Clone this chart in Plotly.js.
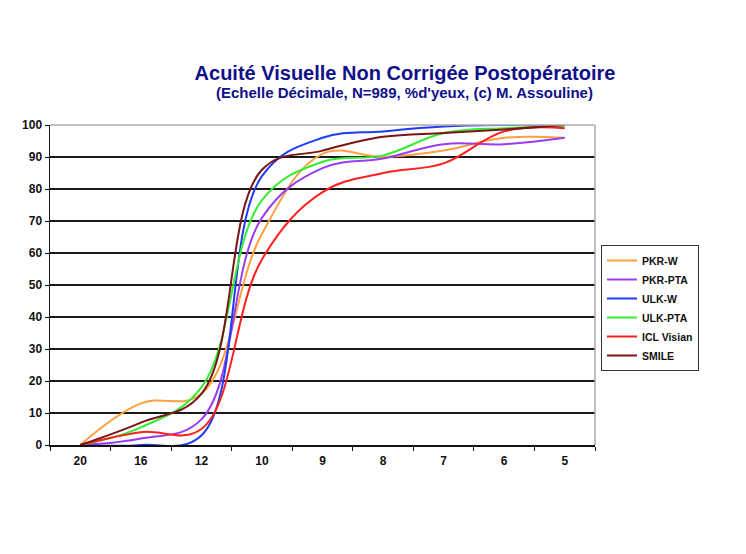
<!DOCTYPE html>
<html>
<head>
<meta charset="utf-8">
<script src="https://cdn.plot.ly/plotly-3.0.1.min.js"></script>
<style>
  html, body { margin: 0; padding: 0; background: #fff; }
  #chart { width: 746px; height: 554px; }
</style>
</head>
<body>
<div id="chart"></div>
<script>
// ------------------------------
// Data
// ------------------------------
var acuity = ['20', '16', '12', '10', '9', '8', '7', '6', '5'];

var pkrW    = [0, 13, 16, 66, 91, 90, 92, 96, 96];
var pkrPta  = [0, 2, 8, 71, 86.5, 89.5, 94, 94, 96];
var ulkW    = [0, 0, 3, 84, 96, 98, 99.5, 100, 100];
var ulkPta  = [0, 5.5, 18, 76.5, 88.5, 90.5, 97.5, 99, 99.5];
var iclV    = [0, 4, 5, 58, 79, 85, 88, 98, 99];
var smile   = [0, 7, 16, 86, 92, 96.3, 97.5, 98.6, 100];

var names  = ['PKR-W', 'PKR-PTA', 'ULK-W', 'ULK-PTA', 'ICL Visian', 'SMILE'];
var series = [pkrW, pkrPta, ulkW, ulkPta, iclV, smile];
var colors = ['#ffa040', '#9b3cf0', '#1f3cf5', '#33ee33', '#ff2020', '#7a1515'];

var font = 'Arial, "Liberation Sans", sans-serif';

var data = series.map(function (ys, i) {
  return {
    x: acuity,
    y: ys,
    name: names[i],
    type: 'scatter',
    mode: 'lines',
    line: { color: colors[i], width: 2, shape: 'spline', smoothing: 1.1 }
  };
});

var layout = {
  width: 746,
  height: 554,
  margin: { l: 50, r: 151, t: 125, b: 109 },
  paper_bgcolor: '#fff',
  plot_bgcolor: '#fff',
  font: { family: font, color: '#111', size: 11 },
  title: {
    text: '<b>Acuité Visuelle Non Corrigée Postopératoire</b>',
    font: { family: font, size: 20, color: '#10108a' },
    xref: 'container', x: 405 / 746, xanchor: 'center',
    yref: 'container', y: 1 - 73 / 554, yanchor: 'middle'
  },
  annotations: [{
    text: '<b>(Echelle Décimale, N=989, %d\'yeux, (c) M. Assouline)</b>',
    xref: 'paper', yref: 'paper',
    x: (404 - 50) / 545, y: (445 - 93) / 320,
    xanchor: 'center', yanchor: 'middle',
    showarrow: false,
    font: { family: font, size: 15, color: '#10108a' }
  }],
  xaxis: {
    type: 'category',
    range: [-0.5, 8.5],
    showline: true, linecolor: '#111', linewidth: 1.5,
    ticks: 'outside', tickson: 'boundaries', ticklen: 4, tickcolor: '#111',
    ticklabelstandoff: 4,
    showgrid: false,
    tickfont: { family: font, size: 12, weight: 'bold', color: '#111' },
    fixedrange: true
  },
  yaxis: {
    range: [0, 100],
    dtick: 10,
    showline: true, linecolor: '#111', linewidth: 1.5,
    ticks: 'outside', ticklen: 4, tickcolor: '#111',
    showgrid: true, gridcolor: '#1a1a1a', gridwidth: 1.5,
    zeroline: false,
    tickfont: { family: font, size: 12, weight: 'bold', color: '#111' },
    fixedrange: true
  },
  shapes: [
    { type: 'line', xref: 'paper', yref: 'paper', x0: 0, x1: 1, y0: 1, y1: 1,
      line: { color: '#aaaaaa', width: 1.5 } },
    { type: 'line', xref: 'paper', yref: 'paper', x0: 1, x1: 1, y0: 0, y1: 1,
      line: { color: '#aaaaaa', width: 1.5 } }
  ],
  showlegend: true,
  legend: {
    x: (601 - 50) / 545, xanchor: 'left',
    y: (445 - 245) / 320, yanchor: 'top',
    bgcolor: '#fff', bordercolor: '#333', borderwidth: 1,
    font: { family: font, size: 10.5, weight: 'bold', color: '#111' },
    tracegroupgap: 0,
    itemwidth: 30
  }
};

Plotly.newPlot('chart', data, layout, { displayModeBar: false, staticPlot: true });
</script>
</body>
</html>
